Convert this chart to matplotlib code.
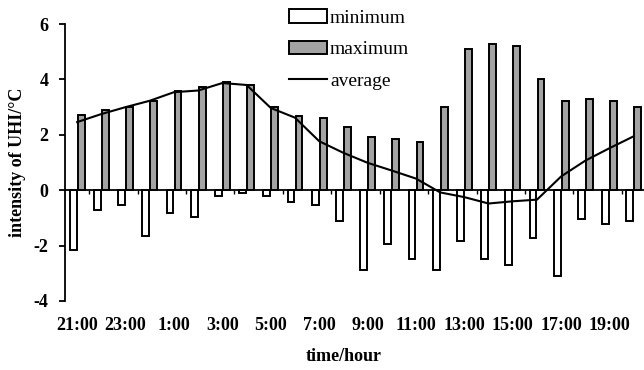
import numpy as np
import matplotlib
matplotlib.use('Agg')
import matplotlib.pyplot as plt

# hourly UHI intensity, 21:00 through 20:00 next day
hours = ['21:00', '22:00', '23:00', '0:00', '1:00', '2:00', '3:00', '4:00',
         '5:00', '6:00', '7:00', '8:00', '9:00', '10:00', '11:00', '12:00',
         '13:00', '14:00', '15:00', '16:00', '17:00', '18:00', '19:00', '20:00']
minimum = [-2.15, -0.73, -0.52, -1.65, -0.83, -0.95, -0.22, -0.1,
           -0.2, -0.43, -0.52, -1.12, -2.89, -1.93, -2.5, -2.89,
           -1.84, -2.5, -2.7, -1.74, -3.1, -1.03, -1.21, -1.12]
maximum = [2.7, 2.9, 3.0, 3.23, 3.59, 3.71, 3.89, 3.81,
           2.99, 2.69, 2.6, 2.28, 1.92, 1.84, 1.73, 2.99,
           5.09, 5.29, 5.19, 4.02, 3.21, 3.3, 3.21, 2.99]
average = [2.46, 2.75, 3.0, 3.23, 3.54, 3.6, 3.87, 3.8,
           2.97, 2.62, 1.77, 1.35, 0.99, 0.71, 0.42, -0.08,
           -0.25, -0.48, -0.4, -0.34, 0.5, 1.07, 1.52, 1.95]

plt.rcParams['font.family'] = ['Liberation Serif', 'DejaVu Serif']
plt.rcParams['axes.unicode_minus'] = False

x = np.arange(len(hours))
fig = plt.figure(figsize=(6.44, 3.70), dpi=100)
ax = fig.add_axes([0.101, 0.1865, 0.902, 0.7485])

w = 0.28
b_min = ax.bar(x - 0.165, minimum, w, color='white', edgecolor='black',
               linewidth=1.4, label='minimum', zorder=2)
b_max = ax.bar(x + 0.165, maximum, w, color='#a3a3a3', edgecolor='black',
               linewidth=1.4, label='maximum', zorder=2)
line, = ax.plot(x, average, color='black', lw=1.5, label='average', zorder=3)

ax.set_xlim(-0.5, len(hours) - 0.5)
ax.set_ylim(-4, 6)
ax.set_yticks([-4, -2, 0, 2, 4, 6])

for s in ['top', 'right']:
    ax.spines[s].set_visible(False)
ax.spines['bottom'].set_position(('data', 0))
ax.spines['left'].set_linewidth(1.3)
ax.spines['bottom'].set_linewidth(1.3)

ax.set_xticks(x[::2])
ax.set_xticklabels(hours[::2])
ax.set_xticks(x[::2] + 0.5, minor=True)
ax.tick_params(axis='x', which='major', length=0, pad=91, labelsize=13)
ax.tick_params(axis='x', which='minor', direction='out', length=3, width=1)
ax.tick_params(axis='y', direction='out', length=4, width=1.3, pad=8,
               labelsize=13)
for lab in ax.get_xticklabels() + ax.get_yticklabels():
    lab.set_fontweight('bold')

ax.set_ylabel('intensity of UHI/\u00b0C', fontsize=13, fontweight='bold')
ax.yaxis.set_label_coords(-0.068, 0.5)
ax.set_xlabel('time/hour', fontsize=13, fontweight='bold')
ax.xaxis.set_label_coords(0.48, -0.17)

fig.legend(handles=[b_min, b_max, line], loc='upper left',
           bbox_to_anchor=(0.428, 1.012), frameon=False, fontsize=14,
           handlelength=1.95, handletextpad=0.15, labelspacing=0.72,
           borderpad=0.2)

plt.savefig('out.png', dpi=100)
